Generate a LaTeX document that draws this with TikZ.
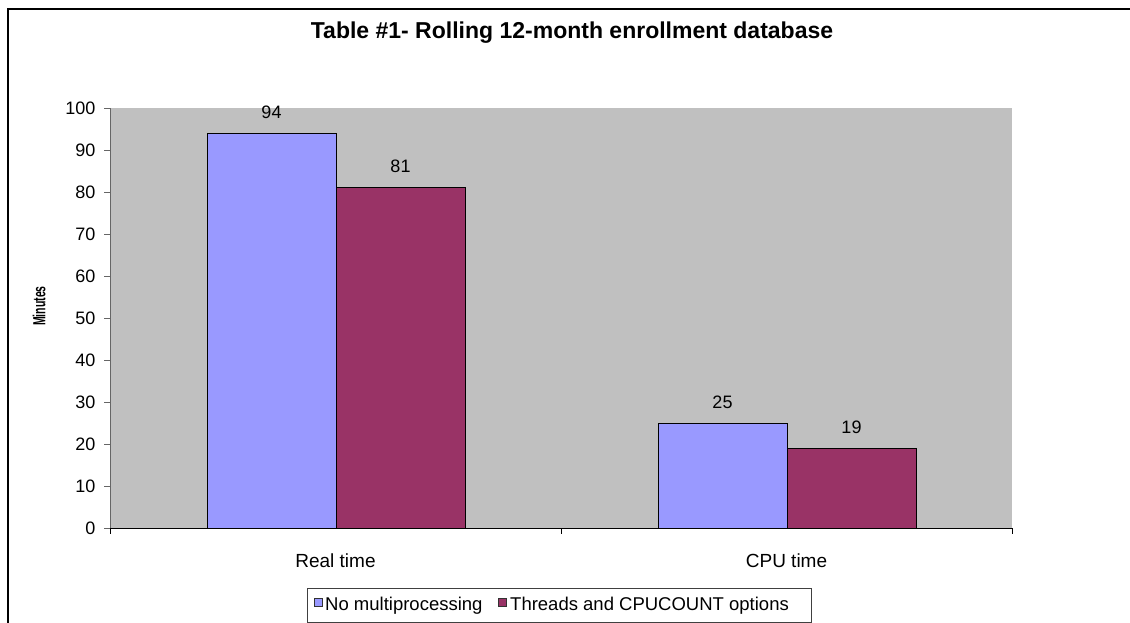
\documentclass[tikz,border=0pt]{standalone}
\usepackage{fontspec}
\setmainfont{Liberation Sans}
\usepackage{tikz}

\definecolor{plotgray}{HTML}{C0C0C0}
\definecolor{nompblue}{HTML}{9999FF}
\definecolor{thrred}{HTML}{993366}

\tikzset{
  ticklab/.style={anchor=east,font=\fontsize{18}{20}\selectfont},
  vallab/.style={font=\fontsize{18}{20}\selectfont},
  catlab/.style={font=\fontsize{19}{21}\selectfont},
  leglab/.style={anchor=base west,inner sep=0pt,font=\fontsize{18.5}{21}\selectfont},
  legsq/.style={draw=black!80,line width=0.6pt,minimum size=7.5pt,inner sep=0pt}
}

\begin{document}
\begin{tikzpicture}[x=1pt,y=-1pt]
\useasboundingbox (0,0) rectangle (1130,623);

% okvir
\coordinate (fl) at (8,623);
\coordinate (ft) at (8,9);
\coordinate (fr) at (1130,9);
\draw[line width=1.3pt] (fl)--(ft)--(fr);

% plot area
\coordinate (p0) at (110,528);
\coordinate (p1) at (1012,108);
\coordinate (ytop) at (110,108);
\coordinate (xend) at (1012,528);
\fill[plotgray] (p0) rectangle (p1);

\node[font=\bfseries\fontsize{23}{26}\selectfont,anchor=base] (title) at (572,39)
  {Table \#1- Rolling 12-month enrollment database};

% bars
\foreach \x/\v/\c/\n in {207/94/nompblue/ra,336/81/thrred/rb,658/25/nompblue/ca,787/19/thrred/cb}{
  \draw[fill=\c,line width=0.9pt] (\x,528) rectangle (\x+129,528-4.2*\v);
  \node[vallab] (v\n) at (\x+64.5,528-4.2*\v-21) {\v};
}

% axes
\draw[black!60,line width=0.8pt] (p0)--(ytop);
\draw[line width=0.9pt] (p0)--(xend);
\foreach \v in {0,10,...,100}{
  \draw[black!60,line width=0.8pt] (104,528-4.2*\v)--(110,528-4.2*\v);
  \node[ticklab] (t\v) at (99,528-4.2*\v) {\v};
}
\foreach \x in {110,561,1012}
\draw[line width=0.8pt] (\x,528)--(\x,534);

\node[catlab] (real) at (335.5,561) {Real time};
\node[catlab] (cpu) at (786.5,561) {CPU time};

\node[rotate=90] (ylab) at (39,306)
  {\scalebox{0.6}[1]{\bfseries\fontsize{17.5}{19}\selectfont Minutes}};

% legend
\coordinate (l0) at (307,588);
\coordinate (l1) at (811,622);
\draw[black!75,line width=0.8pt] (l0) rectangle (l1);
\node[legsq,fill=nompblue] (sqa) at (318.5,602.5) {};
\node[leglab] (lega) at (325,610) {No multiprocessing};
\node[legsq,fill=thrred] (sqb) at (502.5,602.5) {};
\node[leglab] (legb) at (510,610) {Threads and CPUCOUNT options};
\end{tikzpicture}
\end{document}
